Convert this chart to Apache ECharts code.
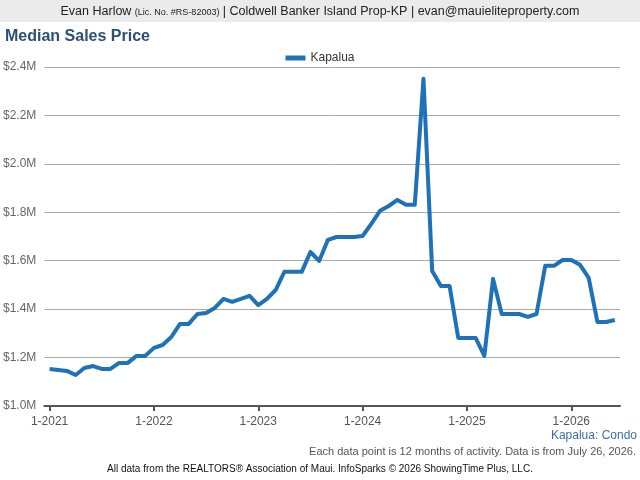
<!DOCTYPE html>
<html>
<head>
<meta charset="utf-8">
<script src="https://cdn.jsdelivr.net/npm/echarts@6/dist/echarts.min.js"></script>
<style>
    html, body { margin: 0; padding: 0; background: #fff; }
    #chart { width: 640px; height: 480px; }
</style>
</head>
<body>
<div id="chart"></div>
<script>
// Monthly points, 1-2021 .. 6-2026 (index 0 = Jan 2021)
var seriesName = "Kapalua";
var months = [];
for (var m = 0; m < 66; m++) months.push(m);
var medianPrice = [
    1153000, 1149000, 1145000, 1128000, 1157000, 1165000, 1153000, 1153000, 1178000, 1178000, 1207000, 1207000,
    1240000, 1252000, 1285000, 1339000, 1339000, 1380000, 1384000, 1405000, 1442000, 1430000, 1442000, 1455000,
    1417000, 1442000, 1479000, 1554000, 1554000, 1554000, 1636000, 1599000, 1686000, 1698000, 1698000, 1698000,
    1702000, 1752000, 1806000, 1826000, 1851000, 1831000, 1831000, 2351000, 1558000, 1496000, 1496000, 1281000,
    1281000, 1281000, 1207000, 1525000, 1380000, 1380000, 1380000, 1368000, 1380000, 1579000, 1579000, 1603000,
    1603000, 1583000, 1529000, 1347000, 1347000, 1355000
];
var yearTicks = [0, 12, 24, 36, 48, 60];
var yearLabels = ["1-2021", "1-2022", "1-2023", "1-2024", "1-2025", "1-2026"];

var chart = echarts.init(document.getElementById("chart"), null, { renderer: "canvas" });

var options = {
    backgroundColor: "#fff",
    animation: false,
    textStyle: { fontFamily: "Liberation Sans, Arial, sans-serif" },
    graphic: [
        {
            type: "rect",
            shape: { x: 0, y: 0, width: 640, height: 22 },
            style: { fill: "#ebebeb" },
            silent: true
        },
        {
            type: "text",
            x: 320, y: 11,
            style: {
                text: "{a|Evan Harlow }{b|(Lic. No. #RS-82003)}{a| | Coldwell Banker Island Prop-KP | evan@mauieliteproperty.com}",
                align: "center",
                verticalAlign: "middle",
                rich: {
                    a: { fontSize: 12.5, fill: "#222", lineHeight: 14, verticalAlign: "bottom", fontFamily: "Liberation Sans, Arial" },
                    b: { fontSize: 9, fill: "#222", lineHeight: 14, verticalAlign: "bottom", padding: [0, 0, 1, 0], fontFamily: "Liberation Sans Narrow, Liberation Sans" }
                }
            }
        },
        {
            type: "text",
            x: 637, y: 436,
            style: {
                text: "Kapalua: Condo",
                align: "right", verticalAlign: "middle",
                fontSize: 12, fill: "#3b6ea8", fontFamily: "Liberation Sans, Arial"
            }
        },
        {
            type: "text",
            x: 636, y: 452,
            style: {
                text: "Each data point is 12 months of activity. Data is from July 26, 2026.",
                align: "right", verticalAlign: "middle",
                fontSize: 11, fill: "#555", fontFamily: "Liberation Sans, Arial"
            }
        },
        {
            type: "text",
            x: 320, y: 469,
            style: {
                text: "All data from the REALTORS\u00ae Association of Maui. InfoSparks \u00a9 2026 ShowingTime Plus, LLC.",
                align: "center", verticalAlign: "middle",
                fontSize: 10, fill: "#111", fontFamily: "Liberation Sans Narrow, Liberation Sans"
            }
        }
    ],
    title: {
        text: "Median Sales Price",
        left: 0, top: 24,
        textStyle: { fontSize: 16, fontWeight: "bold", color: "#2c4f77" }
    },
    legend: {
        data: [seriesName],
        top: 47, left: "center",
        icon: "rect",
        itemWidth: 20, itemHeight: 5,
        itemGap: 5,
        textStyle: { fontSize: 12, color: "#333" }
    },
    grid: { left: 44, right: 20, top: 67, bottom: 74 },
    xAxis: {
        type: "value",
        min: -0.6,
        max: 65.6,
        axisLine: { show: true, lineStyle: { color: "#555", width: 2 } },
        axisTick: {
            show: true, length: 5, inside: false,
            customValues: yearTicks,
            lineStyle: { color: "#555", width: 2 }
        },
        axisLabel: {
            customValues: yearTicks,
            formatter: function (v) { return yearLabels[yearTicks.indexOf(Math.round(v))] || ""; },
            fontSize: 12, color: "#555", margin: 10
        },
        splitLine: { show: false }
    },
    yAxis: {
        type: "value",
        min: 1000000, max: 2400000, interval: 200000,
        axisLine: { show: false },
        axisTick: { show: false },
        axisLabel: {
            formatter: function (v) { return "$" + (v / 1e6).toFixed(1) + "M"; },
            fontSize: 12, color: "#666", margin: 8
        },
        splitLine: { lineStyle: { color: "#aaa", width: 1 } }
    },
    series: [
        {
            name: seriesName,
            type: "line",
            data: months.map(function (m, i) { return [m, medianPrice[i]]; }),
            showSymbol: false,
            symbol: "none",
            lineStyle: { color: "#1f72b8", width: 4, join: "round" },
            itemStyle: { color: "#1f72b8" }
        }
    ]
};

chart.setOption(options);
</script>
</body>
</html>
